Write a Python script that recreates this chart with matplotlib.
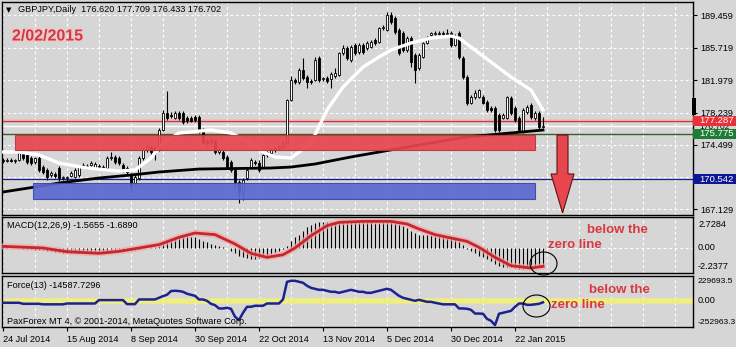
import matplotlib.pyplot as plt
from matplotlib.patches import Rectangle, Ellipse, Polygon
import matplotlib.patheffects as pe

plt.rcParams['font.family'] = ['Liberation Sans', 'DejaVu Sans']

W, H = 736, 347
BG = '#d6d6d6'

# ---- daily GBPJPY bars (index 0 = 24 Jul 2014, last = 2 Feb 2015) ----
opens = [
    172.77, 172.65, 172.77, 172.65, 172.77, 173.46, 173.35, 173.00, 172.54, 173.00,
    171.96, 171.62, 171.04, 171.16, 171.85, 170.70, 170.70, 170.93, 170.81, 171.04,
    171.96, 172.08, 172.19, 171.85, 172.08, 171.96, 171.85, 173.00, 173.12, 173.00,
    172.19, 171.85, 171.04, 170.12, 170.70, 173.00, 173.92, 174.27, 174.15, 173.92,
    176.22, 178.18, 177.95, 177.60, 178.18, 178.18, 177.60, 177.60, 177.72, 177.72,
    176.22, 174.96, 174.84, 174.96, 173.69, 173.69, 173.12, 172.54, 171.62, 170.24,
    168.97, 170.70, 171.96, 172.54, 172.42, 171.96, 173.35, 173.58, 173.92, 174.15,
    174.27, 174.73, 179.68, 181.98, 181.75, 183.13, 182.32, 181.86, 181.98, 184.51,
    182.09, 182.21, 182.09, 182.44, 182.55, 185.09, 185.66, 184.28, 186.01, 185.20,
    186.01, 185.66, 185.78, 186.58, 186.35, 187.96, 187.73, 189.46, 189.11, 187.73,
    187.39, 185.43, 186.81, 184.86, 183.36, 184.63, 186.24, 187.16, 187.27, 187.27,
    187.39, 187.27, 187.39, 186.01, 187.39, 184.51, 182.32, 179.33, 180.02, 180.02,
    180.02, 179.45, 178.76, 178.76, 177.95, 177.60, 177.60, 179.91, 178.76, 177.60,
    175.99, 178.30, 179.10, 177.60, 178.18, 176.620]
highs = [
    173.00, 173.00, 173.00, 172.89, 173.92, 173.69, 173.58, 173.23, 173.12, 173.23,
    172.19, 171.85, 171.50, 171.39, 172.08, 170.93, 170.93, 171.50, 171.85, 172.19,
    172.42, 172.31, 172.65, 172.54, 172.31, 172.19, 173.23, 173.69, 173.35, 173.23,
    172.42, 172.08, 171.27, 171.04, 173.23, 174.15, 174.61, 174.50, 174.38, 176.45,
    178.53, 180.71, 178.30, 178.41, 178.41, 178.41, 177.83, 177.83, 177.95, 177.95,
    176.45, 175.19, 175.30, 175.19, 174.15, 173.92, 173.35, 172.77, 171.85, 170.47,
    170.70, 171.85, 173.00, 172.77, 172.77, 173.46, 173.81, 174.04, 174.27, 174.50,
    174.96, 179.79, 182.44, 182.21, 183.36, 184.51, 182.55, 182.09, 184.63, 184.74,
    182.32, 182.44, 182.90, 183.36, 185.20, 186.01, 185.89, 186.01, 186.24, 186.24,
    186.24, 186.47, 186.58, 186.81, 188.08, 188.31, 189.80, 189.80, 189.34, 187.96,
    187.62, 187.04, 187.04, 185.09, 185.09, 186.35, 187.04, 187.50, 187.62, 187.62,
    187.62, 187.85, 187.62, 187.27, 187.62, 184.74, 182.55, 180.25, 180.83, 180.94,
    180.25, 179.68, 178.99, 178.99, 178.18, 178.18, 180.14, 180.14, 178.99, 177.83,
    178.76, 179.10, 179.33, 178.41, 178.41, 177.709]
lows = [
    172.42, 172.54, 172.54, 172.42, 172.65, 172.77, 172.31, 172.19, 172.31, 171.39,
    171.16, 170.47, 170.81, 170.70, 170.35, 170.47, 170.35, 170.81, 170.70, 170.81,
    171.85, 171.73, 172.08, 171.73, 171.73, 171.62, 171.62, 172.77, 172.31, 172.19,
    171.39, 171.16, 169.09, 169.89, 170.47, 172.77, 173.69, 173.46, 172.77, 173.81,
    176.11, 177.37, 177.60, 177.49, 177.37, 176.91, 177.03, 177.14, 177.14, 175.88,
    174.61, 174.50, 174.61, 173.46, 173.46, 172.77, 171.85, 171.39, 169.66, 167.82,
    168.17, 170.47, 171.85, 172.19, 171.39, 171.85, 173.12, 173.46, 173.69, 173.92,
    174.15, 174.61, 179.56, 181.52, 181.52, 181.98, 181.06, 181.52, 181.86, 181.75,
    181.86, 181.63, 181.06, 182.21, 182.44, 184.86, 184.28, 184.05, 184.86, 184.97,
    184.97, 185.43, 185.66, 186.01, 186.24, 187.73, 187.62, 188.42, 187.27, 184.86,
    185.20, 185.20, 183.47, 181.63, 183.13, 184.51, 186.12, 187.04, 187.16, 187.16,
    187.16, 187.16, 185.78, 185.89, 184.40, 182.09, 179.10, 179.22, 179.79, 179.91,
    179.22, 178.30, 178.30, 175.99, 175.99, 177.49, 177.49, 177.95, 177.14, 175.99,
    175.88, 178.06, 177.49, 177.37, 176.34, 176.433]
closes = [
    172.65, 172.77, 172.65, 172.77, 173.58, 173.00, 172.54, 172.42, 173.00, 171.62,
    171.39, 170.81, 171.27, 170.93, 170.70, 170.81, 170.81, 171.27, 171.62, 171.96,
    172.19, 171.96, 172.42, 172.31, 171.96, 171.85, 173.00, 173.12, 172.54, 172.42,
    171.62, 171.39, 169.78, 170.81, 173.00, 173.92, 174.38, 173.69, 173.58, 176.22,
    178.18, 177.60, 177.83, 178.18, 177.60, 177.14, 177.26, 177.26, 177.37, 175.99,
    174.73, 174.73, 175.07, 173.69, 173.92, 173.00, 171.96, 171.62, 170.24, 169.09,
    170.47, 171.62, 172.77, 172.42, 171.62, 173.35, 173.69, 173.92, 174.15, 174.38,
    174.84, 179.68, 181.98, 181.75, 183.13, 182.21, 181.75, 181.75, 184.28, 181.98,
    182.21, 181.86, 182.67, 182.78, 185.09, 185.66, 184.51, 185.78, 185.09, 186.01,
    185.20, 186.24, 186.35, 186.24, 187.96, 188.08, 189.46, 188.65, 187.50, 185.09,
    185.43, 186.81, 184.05, 183.13, 184.86, 186.24, 186.81, 187.39, 187.39, 187.39,
    187.27, 187.39, 186.01, 187.04, 184.63, 182.32, 179.33, 180.02, 180.48, 180.83,
    179.33, 178.53, 178.53, 176.22, 176.22, 177.95, 180.02, 178.18, 177.37, 176.22,
    178.53, 178.87, 177.72, 178.18, 176.57, 176.702]

# moving averages (bar index, price)
white_ma_idx = [0, 4, 9, 14, 21, 29, 33, 37, 40, 44, 52, 57, 62, 65, 68, 72, 77, 81,
                85, 90, 94, 97, 102, 107, 112, 114, 117, 122, 127, 132, 135]
white_ma_val = [173.69, 173.69, 173.35, 172.42, 171.85, 171.50, 171.62, 173.00, 174.73,
                175.88, 176.22, 175.88, 174.73, 173.69, 173.12, 173.00, 174.73, 178.53,
                181.17, 183.47, 184.63, 185.43, 186.24, 186.81, 187.04, 186.81, 185.78,
                184.05, 182.32, 180.83, 178.53]
black_ma_idx = [0, 8, 14, 24, 32, 39, 49, 67, 72, 78, 87, 94, 104, 116, 124, 135]
black_ma_val = [169.09, 169.66, 170.12, 170.70, 171.04, 171.39, 171.73, 171.85, 171.96,
                172.31, 173.12, 173.69, 174.50, 175.42, 175.76, 176.22]

# MACD main (histogram) and signal
macd_main = [
    0.09, 0.09, 0.0, 0.0, 0.0, -0.09, -0.09, -0.09, -0.18, -0.18, -0.18,
    -0.28, -0.28, -0.37, -0.37, -0.46, -0.46, -0.46, -0.46, -0.46, -0.46, -0.37, -0.37,
    -0.37, -0.37, -0.28, -0.28,
    -0.18, -0.18, -0.09, -0.09, -0.09, -0.18, -0.18, -0.09, 0.0, 0.0,
    0.09, 0.09, 0.18, 0.37,
    0.64, 0.83, 1.01, 1.10, 1.10, 1.10, 1.01, 1.01, 0.83, 0.64, 0.55, 0.37, 0.28, 0.18,
    0.09, 0.0,
    -0.28, -0.46, -0.74, -0.83, -0.92, -1.01, -1.01, -0.92, -0.83, -0.74, -0.55, -0.37,
    -0.28, -0.09,
    0.18, 0.64, 1.01, 1.20, 1.56, 1.93, 2.12, 2.30, 2.39,
    2.39, 2.39, 2.39, 2.39, 2.48, 2.48, 2.48, 2.48, 2.48, 2.48, 2.48, 2.39, 2.39, 2.30,
    2.30, 2.39, 2.39, 2.39, 2.30,
    2.21, 2.02, 1.84, 1.56, 1.38, 1.20, 1.20, 1.20, 1.20, 1.10, 1.10, 1.10, 1.01, 0.92,
    0.83, 0.64,
    0.28, -0.09, -0.28, -0.46, -0.74, -0.83, -1.01, -1.20, -1.47, -1.66, -1.75, -1.75,
    -1.75, -1.84, -1.93, -1.93, -1.84, -1.84, -1.75, -1.75, -1.5655]
signal_idx = [0, 10, 16, 24, 29, 34, 39, 44, 48, 53, 58, 62, 66, 70, 73, 77, 81, 84,
              90, 97, 101, 104, 108, 112, 116, 119, 123, 127, 132, 135]
signal_val = [0.15, 0.0, -0.34, -0.49, -0.31, 0.0, 0.31, 0.98, 1.38, 1.23, 0.37, -0.49,
              -0.86, -0.62, 0.0, 1.13, 2.05, 2.36, 2.45, 2.45, 2.21, 1.75, 1.23, 0.92,
              0.61, 0.06, -0.86, -1.63, -1.84, -1.689]

# Force(13)
force = [
    -19000, -19000, -19000, -19000, -19000, -29000, -29000, -29000, -29000, -29000,
    -34000, -34000, -34000, -34000, -34000, -34000,
    -26000, -26000, -26000, -26000, -26000, -26000, -26000, -26000,
    7000, 7000, 7000, 7000, 7000, 7000, 7000, -32000, -32000, -32000,
    13000, 13000, 13000, 13000, 13000, 29000, 45000, 58000,
    94000, 97000, 94000, 87000, 68000, 58000, 48000, 13000, 13000, 0,
    -29000, -42000, -74000, -74000, -68000, -77000, -154000, -186000, -116000,
    -58000, -58000, -48000, -48000, -48000, -26000, -26000, -26000, -26000, 13000,
    183000, 193000, 193000, 183000,
    174000, 145000, 125000, 116000, 106000, 106000, 97000, 87000, 87000, 77000,
    87000, 97000, 106000, 97000, 87000, 87000, 77000, 77000, 87000, 97000,
    106000, 116000, 106000, 77000, 48000, 29000, 19000, 10000, 0, 10000,
    0, -10000, -10000, -19000,
    -26000, -34000, -34000, -34000, -34000, -74000, -74000, -77000, -87000,
    -123000, -123000, -125000, -174000, -193000, -235000, -125000, -116000,
    -106000, -97000, -58000, -26000, -26000, -39000, -39000, -34000, -29000, -14588]

date_idx = [0, 16, 32, 48, 64, 80, 96, 112, 128]
date_labels = ['24 Jul 2014', '15 Aug 2014', '8 Sep 2014', '30 Sep 2014', '22 Oct 2014',
               '13 Nov 2014', '5 Dec 2014', '30 Dec 2014', '22 Jan 2015']
price_ticks = [189.459, 185.719, 181.979, 178.239, 174.499, 170.759, 167.129]

red_zone = (3, 133, 173.92, 175.65)
blue_zone = (7.5, 133, 168.28, 170.12)
red_level, green_level, bid_level, blue_level = 177.287, 175.775, 176.702, 170.542


def rect(x0, y0, x1, y1):
    return [x0 / W, 1 - y1 / H, (x1 - x0) / W, (y1 - y0) / H]


fig = plt.figure(figsize=(W / 100, H / 100), dpi=100)
fig.patch.set_facecolor(BG)

ax = fig.add_axes(rect(2, 2, 693, 215))
ax_m = fig.add_axes(rect(2, 217, 693, 273))
ax_f = fig.add_axes(rect(2, 276, 693, 327))

grid_kw = dict(color='white', lw=0.8, dashes=(2.5, 2.5), zorder=0.5)
for a in (ax, ax_m, ax_f):
    a.set_facecolor(BG)
    a.set_xlim(-0.25, 172.5)
    for s in a.spines.values():
        s.set_color('black')
        s.set_linewidth(1)
    for gx in range(0, 173, 8):
        a.axvline(gx, **grid_kw)

# ---- main price panel ----
ax.set_ylim(166.44, 190.96)
for p in price_ticks:
    ax.axhline(p, **grid_kw)

n = len(closes)
xs = list(range(n))
ax.vlines(xs, lows, highs, color='black', lw=0.8, zorder=3)
for i in range(n):
    o, c = opens[i], closes[i]
    bull = c >= o
    ax.bar(i, max(abs(c - o), 0.02), bottom=min(o, c), width=0.7,
           color='white' if bull else 'black', edgecolor='black', lw=0.6, zorder=4)

ax.plot(white_ma_idx, white_ma_val, color='white', lw=2.4, zorder=5)
ax.plot(black_ma_idx, black_ma_val, color='black', lw=2.0, zorder=5)

ax.axhline(red_level, color='#f2b4b4', lw=3, alpha=0.6, zorder=2)
ax.axhline(red_level, color='#c8383c', lw=0.9, zorder=2)
ax.axhline(bid_level, color='white', lw=1.0, zorder=2)
ax.axhline(green_level, color='#3b5e2a', lw=1.0, zorder=2)
ax.axhline(blue_level, color='#1a1a90', lw=0.9, zorder=2)

x0, x1, y0, y1 = red_zone
ax.add_patch(Rectangle((x0, y0), x1 - x0, y1 - y0, fc='#e8464e', ec='#c0343a',
                       lw=0.8, alpha=0.93, zorder=6))
x0, x1, y0, y1 = blue_zone
ax.add_patch(Rectangle((x0, y0), x1 - x0, y1 - y0, fc='#5b69d0', ec='#3a48a8',
                       lw=0.8, alpha=0.93, zorder=6))

# down arrow
arrow = [(138.5, 175.65), (141.25, 175.65), (141.25, 171.16), (142.75, 171.16),
         (139.9, 166.67), (137.0, 171.16), (138.5, 171.16)]
ax.add_patch(Polygon(arrow, closed=True, fc='#e8464e', ec='#5a1414', lw=0.8, zorder=7))

ax.yaxis.tick_right()
ax.set_yticks(price_ticks)
ax.set_yticklabels([f'{p:.3f}' for p in price_ticks])
ax.tick_params(axis='y', direction='out', length=3, pad=2, labelsize=6.6, colors='black')
ax.tick_params(axis='x', bottom=False, labelbottom=False)

# ---- MACD panel ----
ax_m.set_ylim(-2.30, 2.852)
ax_m.axhline(0, **grid_kw)
ax_m.vlines(xs, 0, macd_main, color='black', lw=0.8, zorder=3)
ax_m.plot(signal_idx, signal_val, color='#f4a6a6', lw=4.5, alpha=0.7, zorder=4,
          solid_capstyle='round')
ax_m.plot(signal_idx, signal_val, color='#c4282e', lw=2.0, zorder=5)
ax_m.set_yticks([])
ax_m.tick_params(axis='x', bottom=False, labelbottom=False)

# ---- Force panel ----
ax_f.set_ylim(-252900, 239400)
ax_f.axhline(0, color='#eeee82', lw=4, zorder=2)
ax_f.plot(xs, force, color='#1c2290', lw=1.8, zorder=4)
ax_f.set_yticks([])
ax_f.set_xticks(date_idx)
ax_f.set_xticklabels(date_labels, ha='left')
ax_f.tick_params(axis='x', direction='out', length=3, pad=3, labelsize=6.6)


# ---- right side labels ----
def fig_y(a, v):
    return fig.transFigure.inverted().transform(a.transData.transform((0, v)))[1]


def side_text(a, v, s, va='center', dy=0, size=6.6):
    fig.text(698 / W, fig_y(a, v) + dy / H, s, fontsize=size, va=va, ha='left')


side_text(ax_m, 2.7284, '2.7284', va='top', dy=-2)
side_text(ax_m, 0, '0.00')
side_text(ax_m, -2.2377, '-2.2377', va='bottom', dy=1)
side_text(ax_f, 229693.5, '229693.5', va='top', dy=-1, size=6.1)
side_text(ax_f, 0, '0.00')
side_text(ax_f, -252963.3, '-252963.3', va='bottom', dy=1, size=6.1)

# bid price label, mostly hidden behind the coloured level labels
fig.text(699 / W, fig_y(ax, bid_level) - 1.5 / H, f'{bid_level:.3f}', fontsize=6.0,
         va='center', zorder=1)
for lvl, col, hgt in [(red_level, '#e8323a', 10), (green_level, '#1e7d34', 10),
                      (blue_level, '#0c1796', 10)]:
    yc = fig_y(ax, lvl)
    fig.add_artist(Rectangle((693 / W, yc - hgt / 2 / H), 43 / W, hgt / H,
                             transform=fig.transFigure, fc=col, ec='none', zorder=2))
    fig.text(699 / W, yc, f'{lvl:.3f}', fontsize=6.8, color='white', va='center',
             zorder=3)
fig.add_artist(Rectangle((692 / W, 1 - 115 / H), 4 / W, 17 / H,
                         transform=fig.transFigure, fc='black', ec='none', zorder=2))

# ---- texts ----
fig.text(6 / W, 1 - 10 / H, '\u25bc', fontsize=5, va='center', family='DejaVu Sans')
fig.text(18 / W, 1 - 10 / H, 'GBPJPY,Daily  176.620 177.709 176.433 176.702',
         fontsize=6.6, va='center')
fig.text(12 / W, 1 - 36 / H, '2/02/2015', fontsize=11.5, fontweight='bold',
         color='#d03a44', va='center',
         path_effects=[pe.withStroke(linewidth=2, foreground='#efc6c6')])
fig.text(7 / W, 1 - 226 / H, 'MACD(12,26,9) -1.5655 -1.6890', fontsize=6.6, va='center')
fig.text(7 / W, 1 - 286 / H, 'Force(13) -14587.7296', fontsize=6.6, va='center')
fig.text(7 / W, 1 - 321 / H, 'PaxForex MT 4, \u00a9 2001-2014, MetaQuotes Software Corp.',
         fontsize=6.6, va='center')

note = dict(fontsize=9.5, fontweight='bold', color='#d8383f', va='center')
fig.text(587 / W, 1 - 230 / H, 'below the', **note)
fig.text(548 / W, 1 - 245 / H, 'zero line', **note)
fig.text(589 / W, 1 - 290 / H, 'below the', **note)
fig.text(551 / W, 1 - 305 / H, 'zero line', **note)

for cx, cy, ew, eh in [(543.5, 263.5, 27, 23), (536.5, 306, 27, 22)]:
    fig.add_artist(Ellipse((cx / W, 1 - cy / H), ew / W, eh / H,
                           transform=fig.transFigure, fill=False, ec='black', lw=0.8))

fig.savefig('out.png', dpi=100, facecolor=BG)
